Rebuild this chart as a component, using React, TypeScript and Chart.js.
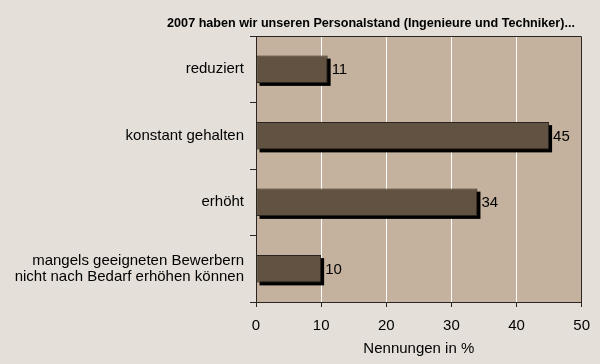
import React, { useEffect, useRef } from "react";
import { Chart, registerables } from "chart.js";

Chart.register(...registerables);

const categories: string[][] = [
  ["reduziert"],
  ["konstant gehalten"],
  ["erhöht"],
  ["mangels geeigneten Bewerbern", "nicht nach Bedarf erhöhen können"],
];
const values: number[] = [11, 45, 34, 10];
const xMin = 0;
const xMax = 50;
const xStep = 10;
const titleText = "2007 haben wir unseren Personalstand (Ingenieure und Techniker)...";
const axisTitle = "Nennungen in %";

const FONT = "'Liberation Sans', Arial, sans-serif";
const PAGE_BG = "#e4e0d9";
const PLOT_BG = "#c4b29e";
const BAR_FILL = "#625241";
const DARK = "#2a2520";

export default function App() {
  const ref = useRef<HTMLCanvasElement | null>(null);

  useEffect(() => {
    document.body.style.margin = "0";
    document.body.style.background = PAGE_BG;
    const canvas = ref.current;
    if (!canvas) return;

    const bgPlugin = {
      id: "bgPlugin",
      beforeDraw(chart: any) {
        const { ctx, chartArea } = chart;
        ctx.save();
        ctx.fillStyle = PAGE_BG;
        ctx.fillRect(0, 0, chart.width, chart.height);
        ctx.fillStyle = PLOT_BG;
        ctx.fillRect(chartArea.left, chartArea.top, chartArea.right - chartArea.left, chartArea.bottom - chartArea.top);
        ctx.restore();
      },
    };

    const shadowPlugin = {
      id: "shadowPlugin",
      beforeDatasetsDraw(chart: any) {
        const { ctx } = chart;
        const meta = chart.getDatasetMeta(0);
        ctx.save();
        ctx.fillStyle = "#000";
        meta.data.forEach((bar: any) => {
          const p = bar.getProps(["x", "y", "base", "height"], true);
          ctx.fillRect(p.base + 3, p.y - p.height / 2 + 3, p.x - p.base, p.height);
        });
        ctx.restore();
      },
      afterDatasetsDraw(chart: any) {
        const { ctx } = chart;
        const meta = chart.getDatasetMeta(0);
        const data = chart.data.datasets[0].data;
        ctx.save();
        ctx.fillStyle = "#000";
        ctx.font = `15px ${FONT}`;
        ctx.textAlign = "left";
        ctx.textBaseline = "middle";
        meta.data.forEach((bar: any, i: number) => {
          const p = bar.getProps(["x", "y"], true);
          ctx.fillText(String(data[i]), p.x + 4, p.y + 1);
        });
        ctx.restore();
      },
    };

    const framePlugin = {
      id: "framePlugin",
      afterDraw(chart: any) {
        const { ctx, chartArea } = chart;
        ctx.save();
        ctx.strokeStyle = DARK;
        ctx.lineWidth = 1;
        ctx.beginPath();
        ctx.moveTo(chartArea.left, chartArea.top + 0.5);
        ctx.lineTo(Math.round(chartArea.right) - 0.5, chartArea.top + 0.5);
        ctx.lineTo(Math.round(chartArea.right) - 0.5, chartArea.bottom);
        ctx.stroke();
        ctx.fillStyle = "#000";
        ctx.font = `bold 12.6px ${FONT}`;
        ctx.textAlign = "center";
        ctx.textBaseline = "middle";
        ctx.fillText(titleText, 371, 24);
        ctx.restore();
      },
    };

    const chart = new Chart(canvas, {
      type: "bar",
      data: {
        labels: categories,
        datasets: [
          {
            data: values,
            backgroundColor: BAR_FILL,
            borderColor: DARK,
            borderWidth: 1,
            borderSkipped: false,
            categoryPercentage: 1,
            barPercentage: 0.41,
          },
        ],
      },
      options: {
        indexAxis: "y",
        responsive: false,
        animation: false,
        layout: { padding: { top: 36, right: 17, left: 0, bottom: 0 } },
        plugins: {
          legend: { display: false },
          tooltip: { enabled: false },
          title: { display: false },
        },
        scales: {
          y: {
            type: "category",
            offset: true,
            grid: {
              offset: true,
              drawOnChartArea: false,
              drawTicks: true,
              tickLength: 6,
              color: DARK,
            },
            border: { color: DARK, width: 1 },
            ticks: { color: "#000", font: { size: 15, family: FONT, lineHeight: 1.1 }, padding: 6 },
            afterFit: (s: any) => {
              s.width = 256;
            },
          },
          x: {
            type: "linear",
            min: xMin,
            max: xMax,
            grid: {
              color: "#ffffff",
              tickColor: DARK,
              tickLength: 5,
              lineWidth: 1,
            },
            border: { color: DARK, width: 1 },
            ticks: { stepSize: xStep, color: "#000", font: { size: 15, family: FONT }, padding: 10 },
            title: {
              display: true,
              text: axisTitle,
              color: "#000",
              font: { size: 15, family: FONT },
              padding: { top: 4, bottom: 6 },
            },
            afterFit: (s: any) => {
              s.height = 62;
            },
          },
        },
      },
      plugins: [bgPlugin, shadowPlugin, framePlugin],
    } as any);

    return () => chart.destroy();
  }, []);

  return (
    <div style={{ width: 600, height: 364, background: PAGE_BG }}>
      <canvas ref={ref} width={600} height={364} />
    </div>
  );
}
